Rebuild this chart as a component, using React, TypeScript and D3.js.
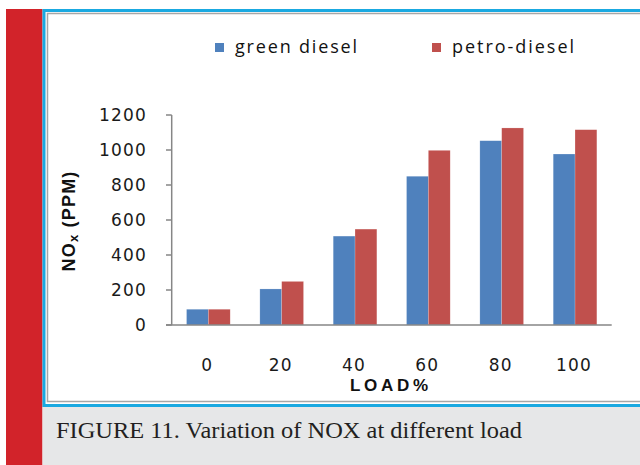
import React from "react";
import * as d3 from "d3";

const loads = ["0", "20", "40", "60", "80", "100"];
const seriesNames = ["green diesel", "petro-diesel"];
const greenDiesel = [90, 206, 508, 850, 1053, 977];
const petroDiesel = [90, 249, 548, 998, 1126, 1116];
const yTicks = [0, 200, 400, 600, 800, 1000, 1200];
const colors = ["#4F81BD", "#C0504D"];

export default function App() {
  const x = d3.scaleBand<string>().domain(loads).range([171.7, 611.7]).paddingInner(0).paddingOuter(0);
  const xi = d3.scaleBand<string>().domain(seriesNames).range([0, x.bandwidth()]).paddingInner(0).paddingOuter(0.68);
  const y = d3.scaleLinear().domain([0, 1200]).range([325, 115]);
  const series = [greenDiesel, petroDiesel];

  return (
    <div style={{ position: "fixed", left: 0, top: 0, width: 640, height: 465 }}>
      <svg width={640} height={465} style={{ display: "block" }}>
        <rect x={0} y={0} width={640} height={465} fill="#ffffff" />
        {/* left red band */}
        <rect x={6} y={9} width={36.5} height={456} fill="#D2232A" />
        {/* caption background */}
        <rect x={42.5} y={407} width={598} height={58} fill="#E6E7E8" />
        {/* blue frame */}
        <rect x={44} y={10.5} width={600} height={395} fill="none" stroke="#1AA9E1" strokeWidth={3} />
        {/* gray inner frame */}
        <rect x={47.5} y={13.5} width={600} height={388} fill="#ffffff" stroke="#A6A6A6" strokeWidth={1.5} />

        {/* legend */}
        {seriesNames.map((s, i) => {
          const lx = i === 0 ? 215 : 432;
          return (
            <g key={s}>
              <rect x={lx} y={43} width={9} height={9} fill={colors[i]} />
              <text x={lx + 20} y={53} fontFamily="Open Sans, Lato, sans-serif" fontSize={18} fill="#111"
                textLength={122} lengthAdjust="spacing">{s}</text>
            </g>
          );
        })}

        {/* bars */}
        {loads.map((l, ci) => (
          <g key={l}>
            {series.map((vals, si) => (
              <rect key={si}
                x={(x(l) as number) + (xi(seriesNames[si]) as number)}
                y={y(vals[ci])}
                width={xi.bandwidth()}
                height={y(0) - y(vals[ci])}
                fill={colors[si]}
                stroke="#ffffff" strokeOpacity={0.35} strokeWidth={0.5} />
            ))}
          </g>
        ))}

        {/* y axis */}
        <line x1={171.7} x2={171.7} y1={y(1200)} y2={y(0)} stroke="#868686" strokeWidth={1.5} />
        {yTicks.map((t) => (
          <g key={t}>
            <line x1={166} x2={171.7} y1={y(t)} y2={y(t)} stroke="#868686" strokeWidth={1.5} />
            <text x={147} y={y(t) + 6} textAnchor="end" fontFamily="DejaVu Sans, Verdana, sans-serif"
              fontSize={17} letterSpacing={1.2} fill="#1a1a1a">{t}</text>
          </g>
        ))}
        {/* x axis */}
        <line x1={166} x2={611.7} y1={y(0)} y2={y(0)} stroke="#868686" strokeWidth={1.5} />
        {loads.map((l) => (
          <text key={l} x={(x(l) as number) + x.bandwidth() / 2 - 1} y={371} textAnchor="middle"
            fontFamily="DejaVu Sans, Verdana, sans-serif" fontSize={17} letterSpacing={1.2} fill="#1a1a1a">{l}</text>
        ))}
        <text x={389} y={391} textAnchor="middle" fontFamily="Liberation Sans, Arial, sans-serif" fontWeight="bold"
          fontSize={17} fill="#111" textLength={78} lengthAdjust="spacing">LOAD%</text>

        {/* y title */}
        <text transform="translate(75,221) rotate(-90)" textAnchor="middle" fontFamily="Liberation Sans, Arial, sans-serif"
          fontWeight="bold" fontSize={18} fill="#111" letterSpacing={1.2}>
          NO<tspan fontSize={13} dy={3}>x</tspan><tspan dy={-3}> (PPM)</tspan>
        </text>

        {/* caption */}
        <text x={56} y={438} fontFamily="Liberation Serif, Times New Roman, serif" fontSize={23} fill="#231F20"
          textLength={466} lengthAdjust="spacingAndGlyphs">FIGURE 11. Variation of NOX at different load</text>
      </svg>
    </div>
  );
}
